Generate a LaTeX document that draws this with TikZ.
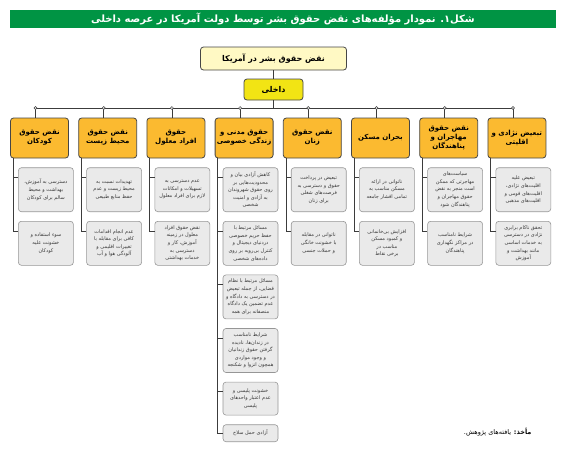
\documentclass[tikz,border=0pt]{standalone}
\usepackage{fontspec}
\usepackage{tikz}
\usetikzlibrary{positioning,calc}
\TeXXeTstate=1
\newfontfamily\fafont[Script=Arabic]{DejaVu Sans}
\definecolor{figgreen}    {RGB}{  0,148, 68}
\definecolor{boxedge}     {RGB}{ 70, 70, 70}
\definecolor{linegray}    {RGB}{ 60, 60, 60}
\definecolor{paleyellow}  {RGB}{255,249,196}
\definecolor{brightyellow}{RGB}{242,228, 20}
\definecolor{catorange}   {RGB}{251,186, 48}
\definecolor{subgray}     {RGB}{234,234,234}
\definecolor{subedge}     {RGB}{150,150,150}
\definecolor{subtext}     {RGB}{ 55, 55, 55}
\newcommand{\rl}[1]{\beginR#1\endR}

\begin{document}
\begin{tikzpicture}[x=1pt,y=-1pt,
  every node/.style={font=\fafont\fontsize{5}{7.6}\selectfont},
  headbox/.style={draw=boxedge, line width=0.8pt, rounded corners=3pt,
    font=\fafont\bfseries\fontsize{8}{10}\selectfont},
  catbox/.style={draw=boxedge, line width=0.8pt, rounded corners=3pt,
    fill=catorange, minimum width=58pt, minimum height=40pt,
    align=center, inner sep=1pt,
    font=\fafont\bfseries\fontsize{7}{9}\selectfont},
  subbox/.style={draw=subedge, line width=0.6pt, rounded corners=3pt,
    fill=subgray, text=subtext, minimum width=55pt,
    minimum height=44pt, align=center, inner sep=1pt},
  link/.style={draw=linegray, line width=0.7pt},
  joint/.style={circle, draw=linegray, fill=white, line width=0.5pt,
    inner sep=0pt, minimum size=3pt}]

\useasboundingbox (0,0) rectangle (566,448);

% title bar
\node[fill=figgreen, minimum width=546pt, minimum height=18pt, inner sep=0pt,
      text=white, font=\fafont\bfseries\fontsize{10}{12}\selectfont]
  (title) at (283,19)
  {\rl{شکل۱. نمودار مؤلفه‌های نقض حقوق بشر توسط دولت آمریکا در عرصه داخلی}};

\node[headbox, fill=paleyellow, minimum width=146pt, minimum height=23pt]
  (root) at (273.5,58.5) {\rl{نقض حقوق بشر در آمریکا}};
\node[headbox, fill=brightyellow, minimum width=59pt, minimum height=21pt]
  (inner) at (273.5,89.5) {\rl{داخلی}};

% categories
\node[catbox] (c1) at (39.5,138)  {\rl{نقض حقوق}\\\rl{کودکان}};
\node[catbox] (c2) at (107.7,138) {\rl{نقض حقوق}\\\rl{محیط زیست}};
\node[catbox] (c3) at (175.9,138) {\rl{حقوق}\\\rl{افراد معلول}};
\node[catbox] (c4) at (244.1,138) {\rl{حقوق مدنی و}\\\rl{زندگی خصوصی}};
\node[catbox] (c5) at (312.3,138) {\rl{نقض حقوق}\\\rl{زنان}};
\node[catbox] (c6) at (380.5,138) {\rl{بحران مسکن}};
\node[catbox] (c7) at (448.7,138) {\rl{نقض حقوق}\\\rl{مهاجران و}\\\rl{پناهندگان}};
\node[catbox] (c8) at (516.9,138) {\rl{تبعیض نژادی و}\\\rl{اقلیتی}};

% items
\node[subbox, anchor=north west] (c1a) at ($(c1.south west)+(8,9)$)
  {\rl{دسترسی به آموزش،}\\\rl{بهداشت و محیط}\\\rl{سالم برای کودکان}};
\node[subbox, below=9pt of c1a] (c1b)
  {\rl{سوء استفاده و}\\\rl{خشونت علیه}\\\rl{کودکان}};

\node[subbox, anchor=north west] (c2a) at ($(c2.south west)+(8,9)$)
  {\rl{تهدیدات نسبت به}\\\rl{محیط زیست و عدم}\\\rl{حفظ منابع طبیعی}};
\node[subbox, below=9pt of c2a] (c2b)
  {\rl{عدم انجام اقدامات}\\\rl{کافی برای مقابله با}\\\rl{تغییرات اقلیمی و}\\\rl{آلودگی هوا و آب}};

\node[subbox, anchor=north west] (c3a) at ($(c3.south west)+(8,9)$)
  {\rl{عدم دسترسی به}\\\rl{تسهیلات و امکانات}\\\rl{لازم برای افراد معلول}};
\node[subbox, below=9pt of c3a] (c3b)
  {\rl{نقض حقوق افراد}\\\rl{معلول در زمینه}\\\rl{آموزش، کار و}\\\rl{دسترسی به}\\\rl{خدمات بهداشتی}};

\node[subbox, anchor=north west] (c4a) at ($(c4.south west)+(8,9)$)
  {\rl{کاهش آزادی بیان و}\\\rl{محدودیت‌هایی بر}\\\rl{روی حقوق شهروندان}\\\rl{به آزادی و امنیت}\\\rl{شخصی}};
\node[subbox, below=9pt of c4a] (c4b)
  {\rl{مسائل مرتبط با}\\\rl{حفظ حریم خصوصی}\\\rl{دردنیای دیجیتال و}\\\rl{کنترل بی‌رویه بر روی}\\\rl{داده‌های شخصی}};
\node[subbox, below=9pt of c4b] (c4c)
  {\rl{مسائل مرتبط با نظام}\\\rl{قضایی، از جمله تبعیض}\\\rl{در دسترسی به دادگاه و}\\\rl{عدم تضمین یک دادگاه}\\\rl{منصفانه برای همه}};
\node[subbox, below=9pt of c4c] (c4d)
  {\rl{شرایط نامناسب}\\\rl{در زندان‌ها، نادیده}\\\rl{گرفتن حقوق زندانیان}\\\rl{و وجود مواردی}\\\rl{همچون انزوا و شکنجه}};
\node[subbox, below=9pt of c4d, minimum height=33pt] (c4e)
  {\rl{خشونت پلیسی و}\\\rl{عدم اعتبار واحدهای}\\\rl{پلیسی}};
\node[subbox, below=9pt of c4e, minimum height=17pt] (c4f)
  {\rl{آزادی حمل سلاح}};

\node[subbox, anchor=north west] (c5a) at ($(c5.south west)+(8,9)$)
  {\rl{تبعیض در پرداخت}\\\rl{حقوق و دسترسی به}\\\rl{فرصت‌های شغلی}\\\rl{برای زنان}};
\node[subbox, below=9pt of c5a] (c5b)
  {\rl{ناتوانی در مقابله}\\\rl{با خشونت خانگی}\\\rl{و حملات جنسی}};

\node[subbox, anchor=north west] (c6a) at ($(c6.south west)+(8,9)$)
  {\rl{ناتوانی در ارائه}\\\rl{مسکن مناسب به}\\\rl{تمامی اقشار جامعه}};
\node[subbox, below=9pt of c6a] (c6b)
  {\rl{افزایش بی‌خانمانی}\\\rl{و کمبود مسکن}\\\rl{مناسب در}\\\rl{برخی نقاط}};

\node[subbox, anchor=north west] (c7a) at ($(c7.south west)+(8,9)$)
  {\rl{سیاست‌های}\\\rl{مهاجرتی که ممکن}\\\rl{است منجر به نقض}\\\rl{حقوق مهاجران و}\\\rl{پناهندگان شود}};
\node[subbox, below=9pt of c7a] (c7b)
  {\rl{شرایط نامناسب}\\\rl{در مراکز نگهداری}\\\rl{پناهندگان}};

\node[subbox, anchor=north west] (c8a) at ($(c8.south west)+(8,9)$)
  {\rl{تبعیض علیه}\\\rl{اقلیت‌های نژادی،}\\\rl{اقلیت‌های قومی و}\\\rl{اقلیت‌های مذهبی}};
\node[subbox, below=9pt of c8a] (c8b)
  {\rl{تحقق ناکام برابری}\\\rl{نژادی در دسترسی}\\\rl{به خدمات اساسی}\\\rl{مانند بهداشت و}\\\rl{آموزش}};

% tree lines
\foreach \i/\x in {1/35.5,2/103.7,3/171.9,4/240.1,5/308.3,6/376.5,7/444.7,8/512.9}
  \coordinate (j\i) at (\x,108);
\draw[link] (root) -- (inner);
\draw[link] (inner) -- (inner |- j1);
\draw[link] (j1) -- (j8);
\foreach \i in {1,...,8}
  \draw[link] (j\i) -- (j\i |- c\i.north);
\foreach \i in {1,2,3,5,6,7,8}
  \draw[link] ([xshift=3pt]c\i.south west) |- ([yshift=-10pt]c\i a.north west)
              ([xshift=3pt]c\i.south west) |- ([yshift=-10pt]c\i b.north west);
\foreach \k in {a,b,c,d,e}
  \draw[link] ([xshift=3pt]c4.south west) |- ([yshift=-10pt]c4\k.north west);
\draw[link] ([xshift=3pt]c4.south west) |- (c4f.west);
\foreach \i in {1,...,8}
  \node[joint] (dot\i) at (j\i) {};

% source
\node[anchor=east, font=\fafont\fontsize{6.5}{8}\selectfont] (source) at (535,432)
  {\rl{\textbf{مأخذ:} یافته‌های پژوهش.}};

\end{tikzpicture}
\end{document}
